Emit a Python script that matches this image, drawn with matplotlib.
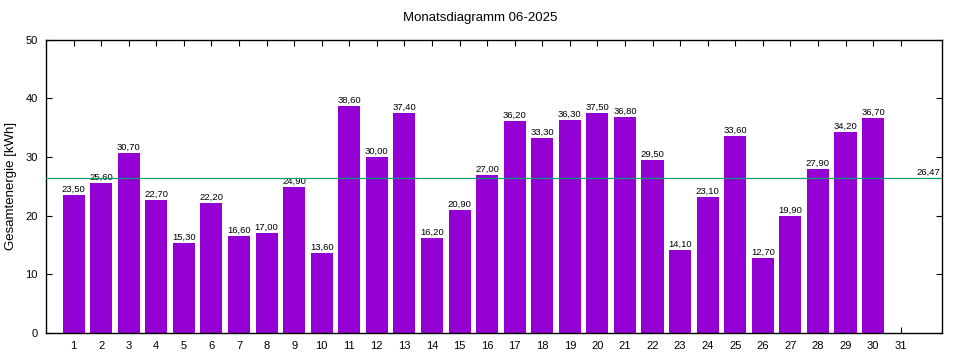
import matplotlib
matplotlib.use("Agg")
import matplotlib.pyplot as plt
import numpy as np

plt.rcParams['font.family'] = ['Liberation Sans', 'DejaVu Sans']

days = list(range(1, 32))
values = [23.5, 25.6, 30.7, 22.7, 15.3, 22.2, 16.6, 17.0, 24.9, 13.6,
          38.6, 30.0, 37.4, 16.2, 20.9, 27.0, 36.2, 33.3, 36.3, 37.5,
          36.8, 29.5, 14.1, 23.1, 33.6, 12.7, 19.9, 27.9, 34.2, 36.7]
title = "Monatsdiagramm 06-2025"
ylabel = "Gesamtenergie [kWh]"

avg = sum(values) / len(values)

fig = plt.figure(figsize=(9.6, 3.6), dpi=100)
ax = fig.add_axes([46/960, 1-333/360, (942-46)/960, (333-39.5)/360])

x = np.arange(1, len(values) + 1)
ax.bar(x, values, width=0.8, color='#9400d3', zorder=2)
for xi, v in zip(x, values):
    ax.text(xi, v + 0.2, f"{v:.2f}".replace('.', ','), ha='center', va='bottom',
            fontsize=6.8, color='#000000', zorder=3)

ax.axhline(avg, color='#009e73', linewidth=0.9, zorder=3)
ax.text(32.45, avg + 0.2, f"{avg:.2f}".replace('.', ','), ha='right', va='bottom',
        fontsize=6.8, color='#000000')

ax.set_xlim(0, 32.5)
ax.set_ylim(0, 50)
ax.set_xticks(days)
ax.set_xticklabels([str(d) for d in days])
ax.set_yticks([0, 10, 20, 30, 40, 50])
ax.tick_params(axis='both', direction='in', top=True, right=True, length=4,
               width=0.8, labelsize=8, pad=6)
for s in ax.spines.values():
    s.set_linewidth(1.0)
ax.set_ylabel(ylabel, fontsize=9.5, labelpad=6)
fig.text(0.5, 1 - 18/360, title, ha='center', va='center', fontsize=9.5)

fig.savefig("out.png", dpi=100)
